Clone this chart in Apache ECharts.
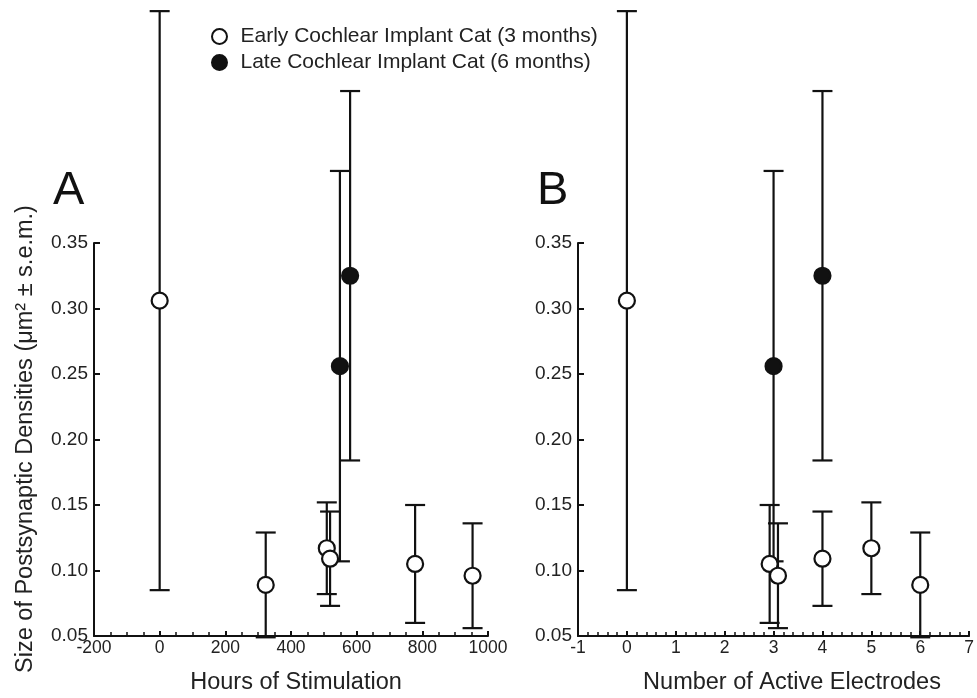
<!DOCTYPE html>
<html>
<head>
<meta charset="utf-8">
<script src="https://cdn.jsdelivr.net/npm/echarts@6/dist/echarts.min.js"></script>
<style>
  html, body { margin: 0; padding: 0; background: #fff; }
  #chart { width: 977px; height: 698px; }
</style>
</head>
<body>
<div id="chart"></div>
<script>
// early implant cats (3 months)
const earlyHours = [0, 323, 509, 519, 778, 953]
const earlyElectrodes = [0, 6, 5, 4, 2.92, 3.09]
const earlySize = [0.306, 0.089, 0.117, 0.109, 0.105, 0.096]
const earlySem = [0.221, 0.040, 0.035, 0.036, 0.045, 0.040]

// late implant cats (6 months)
const lateHours = [549, 580]
const lateElectrodes = [3, 4]
const lateSize = [0.256, 0.325]
const lateSem = [0.149, 0.141]

const yTicks = [0.05, 0.10, 0.15, 0.20, 0.25, 0.30, 0.35]
const hoursTicks = [-200, 0, 200, 400, 600, 800, 1000]
const electrodeTicks = [-1, 0, 1, 2, 3, 4, 5, 6, 7]

const earlyName = 'Early Cochlear Implant Cat (3 months)'
const lateName = 'Late Cochlear Implant Cat (6 months)'
const font = '"Liberation Sans", Arial, Helvetica, sans-serif'
const ink = '#111'

const pts = (xs, ys, es) => xs.map((x, i) => [x, ys[i], es[i]])

// error bar drawn as a vertical line with caps
const errorBar = (params, api) => {
  const x = api.value(0), y = api.value(1), e = api.value(2)
  const hi = api.coord([x, y + e])
  const lo = api.coord([x, y - e])
  const w = 10
  const style = {stroke: ink, lineWidth: 2.2}
  return {
    type: 'group',
    children: [
      {type: 'line', shape: {x1: hi[0], y1: hi[1], x2: lo[0], y2: lo[1]}, style},
      {type: 'line', shape: {x1: hi[0] - w, y1: hi[1], x2: hi[0] + w, y2: hi[1]}, style},
      {type: 'line', shape: {x1: lo[0] - w, y1: lo[1], x2: lo[0] + w, y2: lo[1]}, style}
    ]
  }
}

const yAxisFor = (gridIndex) => ({
  type: 'value',
  gridIndex,
  min: yTicks[0],
  max: yTicks[yTicks.length - 1],
  interval: 0.05,
  splitLine: {show: false},
  axisLine: {show: true, onZero: false, lineStyle: {color: ink, width: 2}},
  axisTick: {show: true, inside: true, length: 6, lineStyle: {color: ink, width: 2}},
  axisLabel: {
    margin: 6, fontSize: 19, color: '#222', fontFamily: font,
    formatter: v => v.toFixed(2)
  }
})

const xAxisFor = (gridIndex, ticks, minorSplit) => ({
  type: 'value',
  gridIndex,
  min: ticks[0],
  max: ticks[ticks.length - 1],
  interval: ticks[1] - ticks[0],
  splitLine: {show: false},
  axisLine: {show: true, onZero: false, lineStyle: {color: ink, width: 2}},
  axisTick: {show: true, inside: true, length: 5, lineStyle: {color: ink, width: 2}},
  minorTick: {show: true, splitNumber: minorSplit, length: 4, lineStyle: {color: ink, width: 1.5}},
  axisLabel: {margin: 3, fontSize: 17.5, color: '#222', fontFamily: font, formatter: v => String(v)}
})

const scatterFor = (name, idx, data, filled) => ({
  name,
  type: 'scatter',
  xAxisIndex: idx,
  yAxisIndex: idx,
  data,
  symbol: 'circle',
  symbolSize: 16,
  z: 4,
  itemStyle: {color: filled ? ink : '#fff', borderColor: ink, borderWidth: 2.2, opacity: 1}
})

const barsFor = (idx, data) => ({
  name: 'err',
  type: 'custom',
  xAxisIndex: idx,
  yAxisIndex: idx,
  data,
  z: 2,
  renderItem: errorBar
})

const chart = echarts.init(document.getElementById('chart'))
chart.setOption({
  animation: false,
  backgroundColor: '#fff',
  textStyle: {fontFamily: font},
  grid: [
    {left: 94, width: 394, top: 243, bottom: 62},
    {left: 578, width: 392, top: 243, bottom: 62}
  ],
  xAxis: [
    xAxisFor(0, hoursTicks, 4),
    xAxisFor(1, electrodeTicks, 5)
  ],
  yAxis: [yAxisFor(0), yAxisFor(1)],
  legend: {
    data: [earlyName, lateName],
    orient: 'vertical',
    left: 206,
    top: 21,
    itemWidth: 26,
    itemHeight: 15,
    itemGap: 5,
    icon: 'circle',
    textStyle: {fontSize: 21, color: '#222', fontFamily: font, padding: [0, 0, 0, 3]}
  },
  graphic: [
    {type: 'text', left: 53, top: 168, style: {text: 'A', fontSize: 47, fill: '#111', fontFamily: font}},
    {type: 'text', left: 537, top: 168, style: {text: 'B', fontSize: 47, fill: '#111', fontFamily: font}},
    {
      type: 'text', x: 26, y: 439, rotation: Math.PI / 2,
      style: {
        text: 'Size of Postsynaptic Densities (μm² ± s.e.m.)',
        fontSize: 23.5, fill: '#222', fontFamily: font,
        align: 'center', verticalAlign: 'middle'
      }
    },
    {
      type: 'text', x: 296, y: 683,
      style: {text: 'Hours of Stimulation', fontSize: 23.5, fill: '#222', fontFamily: font, align: 'center', verticalAlign: 'middle'}
    },
    {
      type: 'text', x: 792, y: 683,
      style: {text: 'Number of Active Electrodes', fontSize: 23.5, fill: '#222', fontFamily: font, align: 'center', verticalAlign: 'middle'}
    }
  ],
  series: [
    barsFor(0, pts(earlyHours, earlySize, earlySem)),
    barsFor(0, pts(lateHours, lateSize, lateSem)),
    scatterFor(earlyName, 0, pts(earlyHours, earlySize, earlySem), false),
    scatterFor(lateName, 0, pts(lateHours, lateSize, lateSem), true),
    barsFor(1, pts(earlyElectrodes, earlySize, earlySem)),
    barsFor(1, pts(lateElectrodes, lateSize, lateSem)),
    scatterFor(earlyName, 1, pts(earlyElectrodes, earlySize, earlySem), false),
    scatterFor(lateName, 1, pts(lateElectrodes, lateSize, lateSem), true)
  ]
})
</script>
</body>
</html>
